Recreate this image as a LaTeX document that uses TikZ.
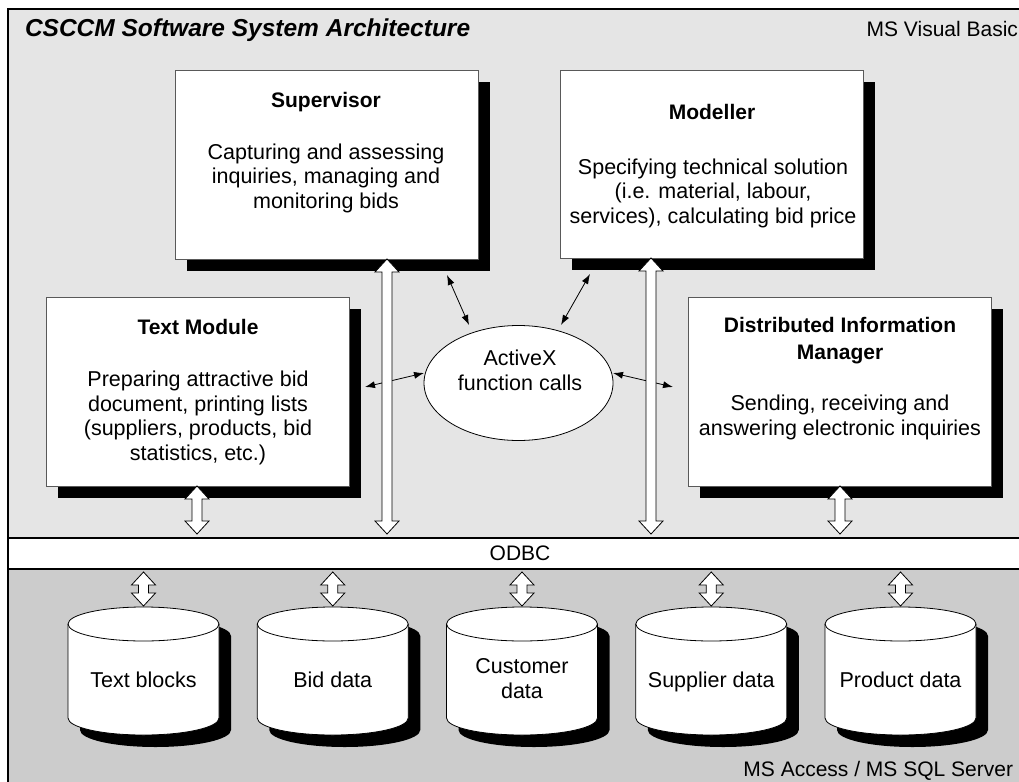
\documentclass[tikz,border=0pt]{standalone}
\usepackage{fontspec}
\setmainfont{Liberation Sans}
\usetikzlibrary{arrows.meta,shapes.geometric,shadows,calc}

\definecolor{appgray}{gray}{0.90}
\definecolor{dbgray}{gray}{0.80}
\definecolor{boxline}{gray}{0.35}

\begin{document}
\begin{tikzpicture}[x=1pt,y=-1pt,
  every node/.style={inner sep=0pt,outer sep=0pt},
  module/.style={draw=boxline,fill=white,line width=0.9pt,anchor=north west,
    minimum width=303pt,minimum height=189pt,
    general shadow={fill=black,shadow xshift=12pt,shadow yshift=-12pt}},
  % multi-line nodes are placed by the baseline of their last line
  head/.style={font=\bfseries\fontsize{21}{27}\selectfont,align=center,anchor=base},
  body/.style={font=\fontsize{21.5}{24.5}\selectfont,align=center,anchor=base},
  note/.style={font=\fontsize{21}{25}\selectfont},
  link/.style={{Latex[length=10pt,width=7pt]}-{Latex[length=10pt,width=7pt]},line width=0.8pt},
  hollow/.style={draw=black,fill=white,line width=0.8pt,line join=miter,
    to path={let \p1=(\tikztostart),\p2=(\tikztotarget) in
      -- (\x1+12pt,\y1-13pt) -- (\x1+5pt,\y1-13pt) -- (\x1+5pt,\y2+13pt)
      -- (\x1+12pt,\y2+13pt) -- (\x1,\y2) -- (\x1-12pt,\y2+13pt)
      -- (\x1-5pt,\y2+13pt) -- (\x1-5pt,\y1-13pt) -- (\x1-12pt,\y1-13pt) -- cycle}},
  dbline/.style={draw=black,line width=0.8pt}
]
\useasboundingbox (0,0) rectangle (1019,781);
\clip (0,0) rectangle (1019,781);
\fill[white] (0,0) rectangle (1019,781);

% layers: Visual Basic application, ODBC, database
\fill[appgray] (8,9) rectangle (1030,538);
\fill[dbgray] (8,569) rectangle (1030,790);
\node[fill=white,minimum width=1022pt,minimum height=31pt,anchor=north west] (odbc) at (8,538) {};
\draw[line width=1.1pt] (1030,9) -- (8,9) -- (8,790);
\draw[line width=1.1pt] (8,538) -- (1030,538) (8,569) -- (1030,569);
\node[note,anchor=center] (odbclabel) at (520,553) {ODBC};

\node[font=\bfseries\itshape\fontsize{24.5}{28}\selectfont,anchor=base west] (title) at (25,37) {CSCCM Software System Architecture};
\node[note,anchor=base east] (vb) at (1018,37) {MS Visual Basic};
\node[note,anchor=base east] (sql) at (1013,776) {MS Access / MS SQL Server};

% application modules
\node[module] (sup) at (175,70) {};
\node[module,minimum height=188pt] (mod) at (560,70) {};
\node[module] (tm) at (46,297) {};
\node[module] (dim) at (688,297) {};

\node[head] (suphead) at (326,107) {Supervisor};
\node[body] (supbody) at (326,208) {Capturing and assessing\\inquiries, managing and\\monitoring bids};
\node[head] (modhead) at (712,120) {Modeller};
\node[body] (modbody) at (713,223) {Specifying technical solution\\(i.e. material, labour,\\services), calculating bid price};
\node[head] (tmhead) at (198,334) {Text Module};
\node[body] (tmbody) at (198,460) {Preparing attractive bid\\document, printing lists\\(suppliers, products, bid\\statistics, etc.)};
\node[head] (dimhead) at (840,359) {Distributed Information\\Manager};
\node[body] (dimbody) at (840,435) {Sending, receiving and\\answering electronic inquiries};

% ActiveX hub
\node[ellipse,draw=black,fill=white,line width=0.8pt,minimum width=189pt,minimum height=115pt] (ax) at (518.5,383) {};
\node[body] (axtext) at (520,390) {ActiveX\\function calls};

\coordinate (l1a) at (447,275); \coordinate (l1b) at (469,325);
\coordinate (l2a) at (590,274); \coordinate (l2b) at (561,325);
\coordinate (l3a) at (365,387); \coordinate (l3b) at (424,373);
\coordinate (l4a) at (673,387); \coordinate (l4b) at (613,373);
\draw[link] (l1a) -- (l1b);
\draw[link] (l2a) -- (l2b);
\draw[link] (l3a) -- (l3b);
\draw[link] (l4a) -- (l4b);

% data access paths to ODBC
\coordinate (xtm) at (197,0);
\coordinate (xsup) at (387,0);
\coordinate (xmod) at (651,0);
\coordinate (xdim) at (840,0);
\draw[hollow] (tm.south -| xtm) to ([yshift=4pt]odbc.north -| xtm);
\draw[hollow] (sup.south -| xsup) to ([yshift=4pt]odbc.north -| xsup);
\draw[hollow] (mod.south -| xmod) to ([yshift=4pt]odbc.north -| xmod);
\draw[hollow] (dim.south -| xdim) to ([yshift=4pt]odbc.north -| xdim);

% databases
\foreach \cx [count=\i] in {143.5,332.75,522,711.25,900.5} {
  \coordinate (top\i) at (\cx,624);
  \coordinate (cap\i) at (\cx,607);
  \fill[black] ([shift={(12,12)}]top\i) ++(-75.5,0) -- ++(0,94)
    arc[start angle=180,end angle=0,x radius=75.5,y radius=17] -- ++(0,-94)
    arc[start angle=0,end angle=-180,x radius=75.5,y radius=17] -- cycle;
  \filldraw[dbline,fill=white] (top\i) ++(-75.5,0) -- ++(0,94)
    arc[start angle=180,end angle=0,x radius=75.5,y radius=17] -- ++(0,-94)
    arc[start angle=0,end angle=-180,x radius=75.5,y radius=17] -- cycle;
  \draw[dbline] (top\i) ++(-75.5,0) arc[start angle=180,end angle=0,x radius=75.5,y radius=17];
  \draw[hollow] ([yshift=-3pt]odbc.south -| cap\i) to ([yshift=1pt]cap\i);
}
\node[body] (db1) at (143.5,687) {Text blocks};
\node[body] (db2) at (332.75,687) {Bid data};
\node[body] (db3) at (522,698) {Customer\\data};
\node[body] (db4) at (711.25,687) {Supplier data};
\node[body] (db5) at (900.5,687) {Product data};
\end{tikzpicture}
\end{document}
